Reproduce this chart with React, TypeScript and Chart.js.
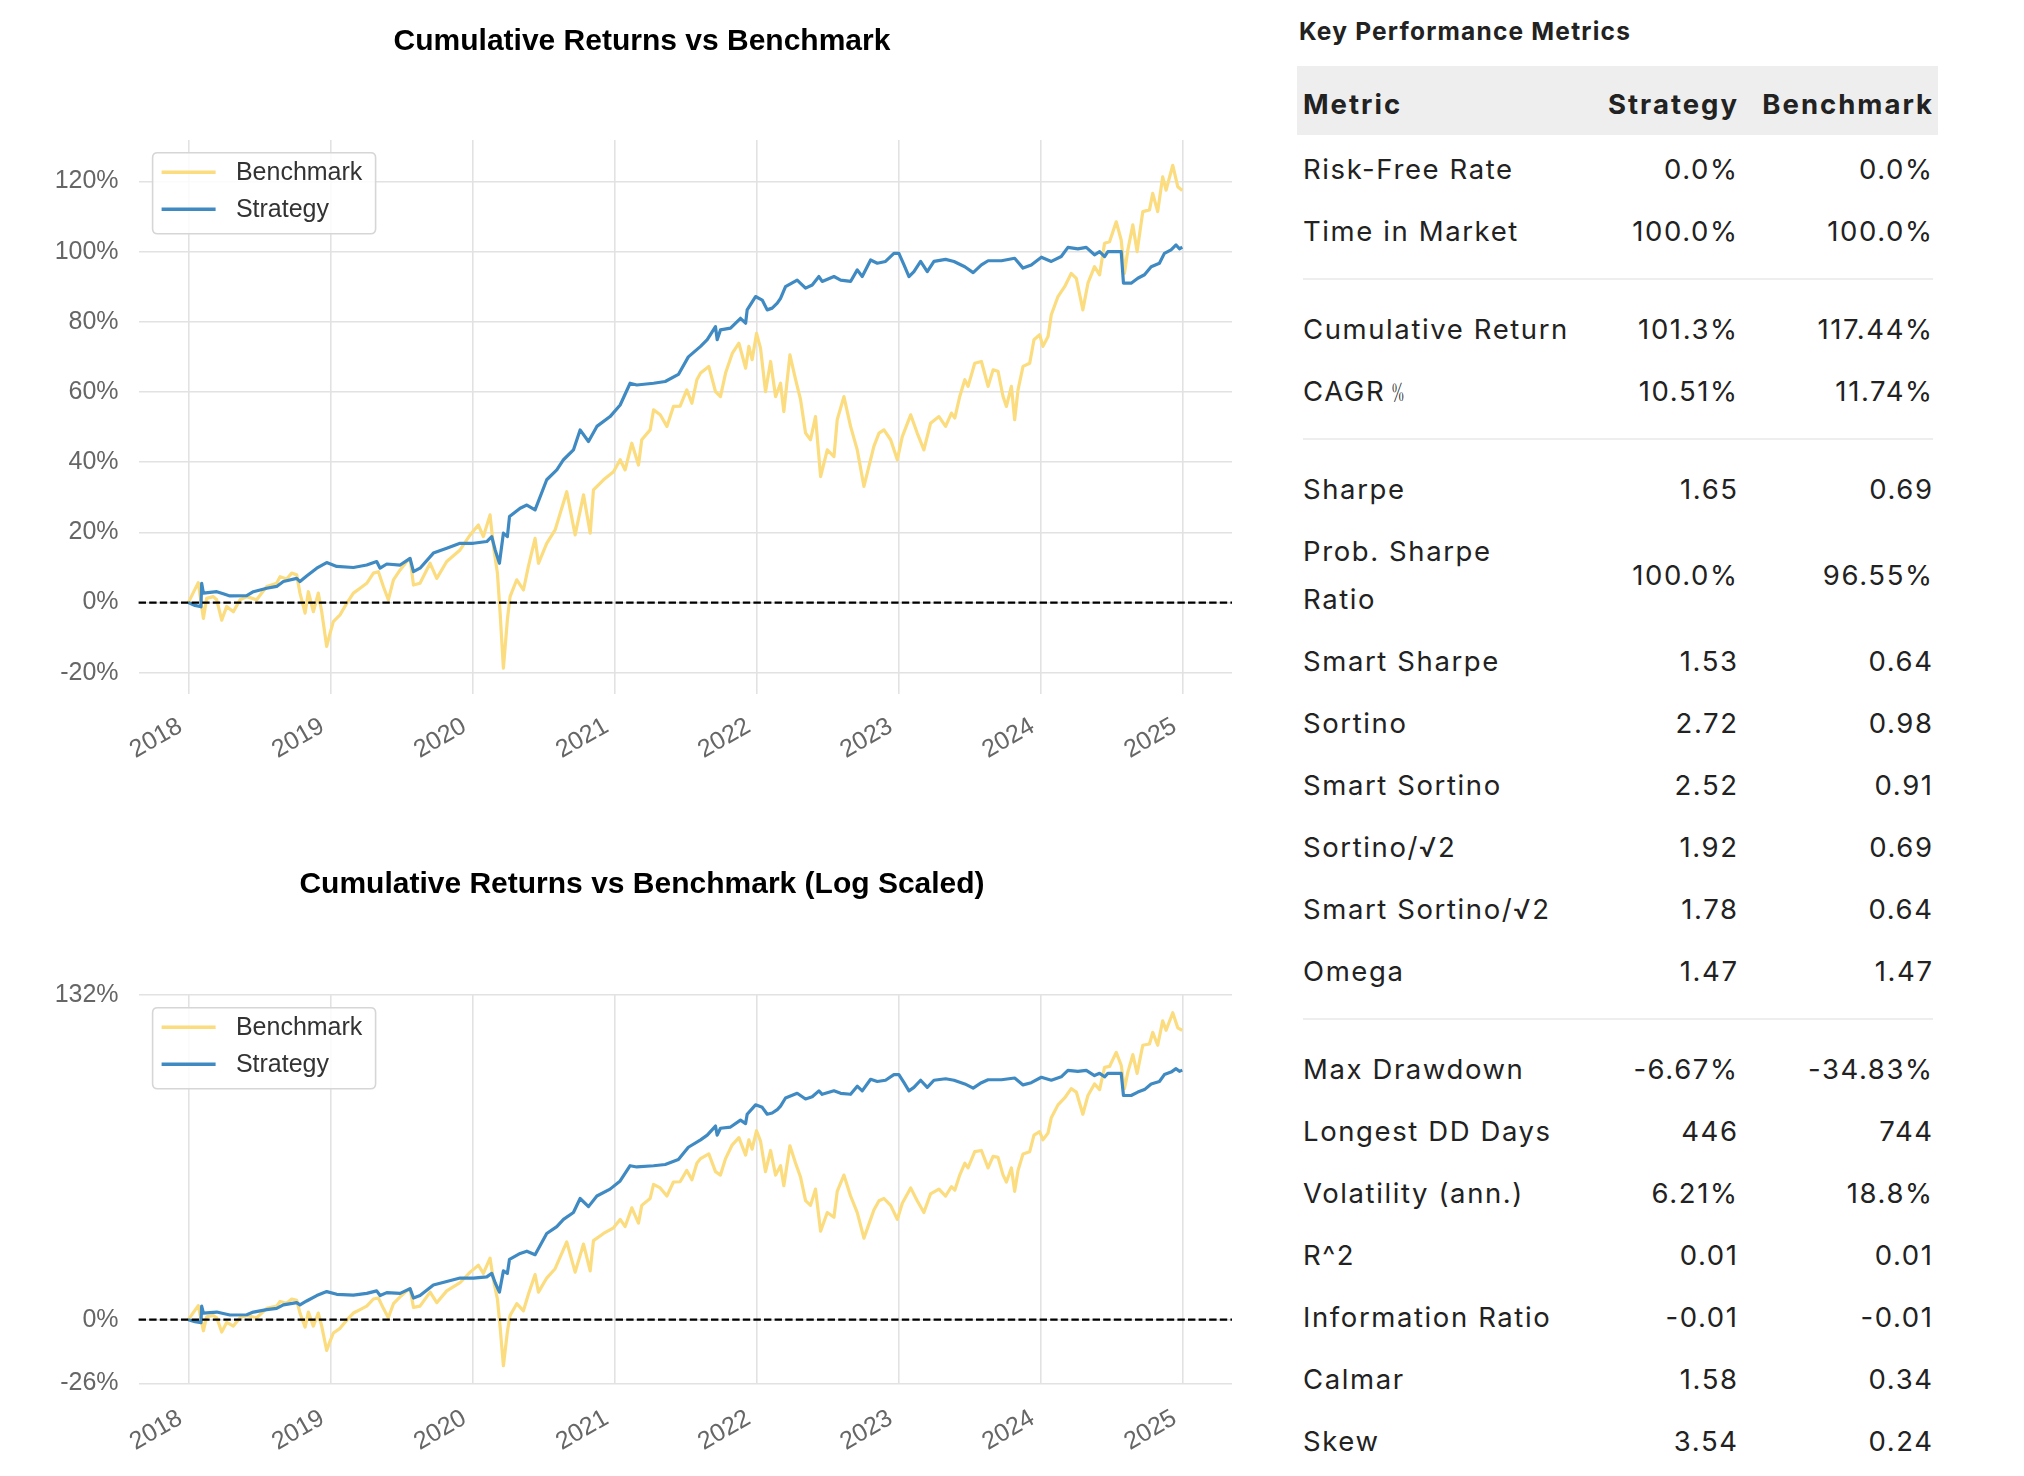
import React, { useEffect, useRef } from "react";
import { Chart, registerables } from "chart.js";

Chart.register(...registerables);

// ---------- data (dates as decimal years, values in % cumulative return) ----------
const benchmarkDates = [
  2018.0, 2018.07, 2018.106, 2018.129, 2018.176, 2018.2, 2018.235, 2018.27, 2018.317, 2018.364,
  2018.411, 2018.481, 2018.552, 2018.622, 2018.646, 2018.692, 2018.728, 2018.763, 2018.786, 2018.822,
  2018.845, 2018.88, 2018.915, 2018.939, 2018.974, 2018.998, 2019.021, 2019.068, 2019.115, 2019.162,
  2019.209, 2019.256, 2019.303, 2019.338, 2019.373, 2019.408, 2019.444, 2019.491, 2019.538, 2019.561,
  2019.585, 2019.631, 2019.702, 2019.749, 2019.819, 2019.913, 2019.984, 2020.042, 2020.077, 2020.124,
  2020.148, 2020.176, 2020.195, 2020.218, 2020.246, 2020.265, 2020.312, 2020.359, 2020.394, 2020.441,
  2020.465, 2020.523, 2020.582, 2020.664, 2020.723, 2020.782, 2020.829, 2020.852, 2020.923, 2020.993,
  2021.04, 2021.075, 2021.122, 2021.169, 2021.192, 2021.251, 2021.275, 2021.322, 2021.369, 2021.415,
  2021.462, 2021.509, 2021.545, 2021.58, 2021.606, 2021.664, 2021.711, 2021.746, 2021.782, 2021.829,
  2021.876, 2021.923, 2021.946, 2021.969, 2022.0, 2022.028, 2022.063, 2022.099, 2022.134, 2022.169,
  2022.192, 2022.235, 2022.275, 2022.31, 2022.345, 2022.38, 2022.415, 2022.451, 2022.498, 2022.545,
  2022.568, 2022.615, 2022.662, 2022.709, 2022.756, 2022.791, 2022.826, 2022.862, 2022.897, 2022.944,
  2022.991, 2023.026, 2023.085, 2023.131, 2023.178, 2023.225, 2023.284, 2023.331, 2023.372, 2023.396,
  2023.431, 2023.466, 2023.489, 2023.536, 2023.583, 2023.63, 2023.665, 2023.7, 2023.735, 2023.759,
  2023.794, 2023.817, 2023.841, 2023.876, 2023.923, 2023.953, 2023.993, 2024.016, 2024.052, 2024.075,
  2024.122, 2024.169, 2024.215, 2024.251, 2024.297, 2024.333, 2024.379, 2024.415, 2024.45, 2024.485,
  2024.532, 2024.567, 2024.59, 2024.614, 2024.649, 2024.679, 2024.719, 2024.766, 2024.789, 2024.824,
  2024.859, 2024.883, 2024.93, 2024.965, 2024.997,
];
const benchmarkValues = [
  0, 5.7, -4.5, 1.2, 1.7, 0.8, -5.0, -1.1, -2.6, 0.8,
  1.7, 0.8, 4.6, 5.5, 7.4, 6.7, 8.4, 7.9, 2.7, -3.0,
  3.1, -2.6, 2.7, -2.6, -12.5, -8.7, -5.4, -3.5, -0.2, 2.7,
  4.1, 5.5, 8.4, 8.8, 4.6, 0.8, 6.5, 9.3, 11.7, 12.6,
  5.0, 5.5, 11.2, 6.9, 11.7, 15.0, 19.3, 22.1, 18.8, 25.0,
  16.0, 8.4, -3.0, -18.7, -4.9, 1.7, 6.5, 3.6, 10.3, 18.3,
  11.2, 16.9, 20.7, 31.6, 19.3, 30.7, 19.8, 32.1, 35.0, 37.3,
  40.7, 37.8, 45.4, 39.2, 46.4, 49.2, 54.9, 53.5, 50.2, 55.9,
  56.0, 60.6, 56.8, 63.5, 65.4, 67.3, 60.1, 58.7, 65.4, 71.0,
  73.9, 66.8, 73.0, 69.2, 76.7, 72.5, 60.1, 68.7, 58.7, 62.5,
  54.4, 70.6, 63.5, 57.8, 48.3, 46.4, 53.0, 35.9, 43.5, 41.6,
  52.1, 58.7, 50.2, 43.5, 33.1, 38.8, 44.5, 48.3, 49.2, 46.4,
  40.7, 47.3, 53.5, 48.3, 43.5, 51.1, 53.0, 50.2, 54.0, 52.6,
  58.8, 63.5, 61.6, 68.2, 68.7, 61.6, 66.3, 65.9, 58.8, 55.9,
  61.6, 52.1, 60.7, 67.3, 68.2, 74.9, 76.3, 73.0, 75.8, 82.0,
  87.2, 90.0, 93.8, 92.4, 83.4, 91.0, 95.7, 93.4, 102.4, 102.8,
  108.5, 103.3, 93.8, 100.5, 107.6, 100.0, 111.4, 111.9, 116.6, 111.4,
  121.3, 117.5, 124.6, 118.5, 117.4,
];
const strategyDates = [
  2018.0, 2018.047, 2018.089, 2018.094, 2018.106, 2018.2, 2018.246, 2018.293, 2018.411, 2018.458,
  2018.552, 2018.622, 2018.669, 2018.763, 2018.786, 2018.833, 2018.904, 2018.974, 2019.045, 2019.162,
  2019.256, 2019.326, 2019.35, 2019.397, 2019.491, 2019.561, 2019.585, 2019.631, 2019.725, 2019.819,
  2019.913, 2020.007, 2020.101, 2020.136, 2020.16, 2020.19, 2020.218, 2020.246, 2020.261, 2020.336,
  2020.383, 2020.441, 2020.523, 2020.594, 2020.641, 2020.711, 2020.758, 2020.817, 2020.876, 2020.969,
  2021.04, 2021.11, 2021.157, 2021.275, 2021.357, 2021.45, 2021.52, 2021.606, 2021.653, 2021.711,
  2021.723, 2021.746, 2021.817, 2021.887, 2021.923, 2021.934, 2021.993, 2022.04, 2022.075, 2022.11,
  2022.146, 2022.169, 2022.204, 2022.286, 2022.345, 2022.392, 2022.439, 2022.462, 2022.545, 2022.592,
  2022.662, 2022.709, 2022.744, 2022.803, 2022.85, 2022.908, 2022.967, 2023.002, 2023.038, 2023.073,
  2023.108, 2023.155, 2023.202, 2023.249, 2023.331, 2023.39, 2023.466, 2023.525, 2023.583, 2023.63,
  2023.724, 2023.817, 2023.876, 2023.934, 2024.005, 2024.075, 2024.145, 2024.192, 2024.262, 2024.321,
  2024.379, 2024.415, 2024.45, 2024.473, 2024.567, 2024.583, 2024.637, 2024.684, 2024.731, 2024.778,
  2024.836, 2024.871, 2024.918, 2024.953, 2024.977, 2024.997,
];
const strategyValues = [
  0, -0.8, -1.2, 5.5, 2.7, 3.1, 2.5, 1.9, 2.0, 3.1,
  4.1, 4.6, 6.0, 6.9, 6.0, 7.6, 9.8, 11.4, 10.3, 10.0,
  10.7, 11.7, 9.8, 11.0, 10.7, 12.6, 8.8, 9.8, 14.1, 15.5,
  16.9, 16.9, 17.4, 18.8, 15.0, 11.2, 19.8, 18.8, 24.5, 26.9,
  27.8, 26.4, 35.0, 37.8, 40.7, 43.5, 49.2, 45.9, 50.2, 53.0,
  56.3, 62.5, 62.0, 62.5, 63.0, 65.0, 70.0, 73.0, 74.9, 78.6,
  74.9, 77.7, 78.2, 81.0, 79.6, 83.4, 87.2, 86.2, 83.4, 83.9,
  85.3, 86.7, 90.0, 91.9, 89.6, 90.5, 92.9, 91.5, 92.9, 91.9,
  91.5, 94.8, 92.9, 97.6, 96.7, 97.2, 99.5, 99.5, 96.2, 92.9,
  94.3, 97.2, 94.3, 97.2, 97.8, 97.2, 95.7, 94.0, 96.2, 97.4,
  97.4, 98.1, 95.3, 96.2, 98.4, 97.2, 98.6, 101.2, 100.8, 101.2,
  99.1, 100.0, 98.6, 100.0, 100.0, 91.0, 91.0, 92.4, 93.4, 95.7,
  96.7, 99.5, 100.5, 101.9, 100.8, 101.3,
];

const yearTicks = [2018, 2019, 2020, 2021, 2022, 2023, 2024, 2025];
const linearTicks = [-20, 0, 20, 40, 60, 80, 100, 120];
const Y_MIN = -25.9;
const Y_MAX = 131.8;
const logTicks = [Y_MIN, 0, Y_MAX];
const X_MIN = 2017.65;
const X_MAX = 2025.347;

const seriesLabels = ["Benchmark", "Strategy"];

const metricNames = [
  "Risk-Free Rate", "Time in Market", null,
  "Cumulative Return", "CAGR﹪", null,
  "Sharpe", "Prob. Sharpe Ratio", "Smart Sharpe", "Sortino", "Smart Sortino", "Sortino/√2", "Smart Sortino/√2", "Omega", null,
  "Max Drawdown", "Longest DD Days", "Volatility (ann.)", "R^2", "Information Ratio", "Calmar", "Skew",
];
const strategyMetrics = [
  "0.0%", "100.0%", null,
  "101.3%", "10.51%", null,
  "1.65", "100.0%", "1.53", "2.72", "2.52", "1.92", "1.78", "1.47", null,
  "-6.67%", "446", "6.21%", "0.01", "-0.01", "1.58", "3.54",
];
const benchmarkMetrics = [
  "0.0%", "100.0%", null,
  "117.44%", "11.74%", null,
  "0.69", "96.55%", "0.64", "0.98", "0.91", "0.69", "0.64", "1.47", null,
  "-34.83%", "744", "18.8%", "0.01", "-0.01", "0.34", "0.24",
];

// ---------- styles ----------
const BENCH_COLOR = "#fbdc7f";
const STRAT_COLOR = "#3f8ac2";
const GRID_COLOR = "#e2e2e2";
const TICK_COLOR = "#666666";
const CHART_FONT = "'Liberation Sans', Arial, Helvetica, sans-serif";
const TABLE_FONT = "Inter, 'Liberation Sans', Arial, sans-serif";
const BODY_LS = 1.6;
const HEAD_LS = 2.0;

const zeroLinePlugin = {
  id: "zeroLine",
  afterDatasetsDraw(chart: any) {
    const { ctx, chartArea } = chart;
    const py = chart.scales.y.getPixelForValue(0);
    ctx.save();
    ctx.strokeStyle = "#000";
    ctx.lineWidth = 2.2;
    ctx.setLineDash([7.4, 3.2]);
    ctx.beginPath();
    ctx.moveTo(chartArea.left, py);
    ctx.lineTo(chartArea.right, py);
    ctx.stroke();
    ctx.restore();
  },
};

const boxLegendPlugin = {
  id: "boxLegend",
  afterDraw(chart: any) {
    const { ctx, chartArea } = chart;
    const x0 = chartArea.left + 14;
    const y0 = chartArea.top + 12.7;
    const w = 223;
    const h = 81;
    const r = 5;
    ctx.save();
    ctx.beginPath();
    ctx.moveTo(x0 + r, y0);
    ctx.lineTo(x0 + w - r, y0);
    ctx.quadraticCurveTo(x0 + w, y0, x0 + w, y0 + r);
    ctx.lineTo(x0 + w, y0 + h - r);
    ctx.quadraticCurveTo(x0 + w, y0 + h, x0 + w - r, y0 + h);
    ctx.lineTo(x0 + r, y0 + h);
    ctx.quadraticCurveTo(x0, y0 + h, x0, y0 + h - r);
    ctx.lineTo(x0, y0 + r);
    ctx.quadraticCurveTo(x0, y0, x0 + r, y0);
    ctx.closePath();
    ctx.fillStyle = "rgba(255,255,255,0.85)";
    ctx.fill();
    ctx.strokeStyle = "#d6d6d6";
    ctx.lineWidth = 1.6;
    ctx.stroke();
    [0, 1].forEach((di, i) => {
      const ds = chart.data.datasets[di];
      const ly = y0 + 19.6 + i * 37;
      ctx.beginPath();
      ctx.strokeStyle = ds.borderColor;
      ctx.lineWidth = 3.6;
      ctx.moveTo(x0 + 9, ly);
      ctx.lineTo(x0 + 63, ly);
      ctx.stroke();
      ctx.fillStyle = "#333";
      ctx.font = `25px ${CHART_FONT}`;
      ctx.textBaseline = "middle";
      ctx.textAlign = "left";
      ctx.fillText(ds.label, x0 + 83.3, ly + 1);
    });
    ctx.restore();
  },
};

const toPoints = (dates: number[], values: number[]) => dates.map((d, i) => ({ x: d, y: values[i] }));

type ChartProps = {
  title: string;
  top: number;
  height: number;
  titlePadTop: number;
  titlePadBottom: number;
  axisHeight: number;
  tickPad: number;
  yTicks: number[];
};

function CumulativeChart(props: ChartProps) {
  const ref = useRef<HTMLCanvasElement | null>(null);
  useEffect(() => {
    if (!ref.current) return;
    const chart = new Chart(ref.current, {
      type: "line",
      data: {
        datasets: [
          {
            label: seriesLabels[0],
            data: toPoints(benchmarkDates, benchmarkValues),
            borderColor: BENCH_COLOR,
            backgroundColor: BENCH_COLOR,
            borderWidth: 3.2,
            pointRadius: 0,
            tension: 0,
            borderJoinStyle: "round",
            order: 2,
          },
          {
            label: seriesLabels[1],
            data: toPoints(strategyDates, strategyValues),
            borderColor: STRAT_COLOR,
            backgroundColor: STRAT_COLOR,
            borderWidth: 3.2,
            pointRadius: 0,
            tension: 0,
            borderJoinStyle: "round",
            order: 1,
          },
        ],
      },
      options: {
        animation: false,
        responsive: false,
        devicePixelRatio: 1,
        layout: { padding: { left: 52, right: 52, top: 0, bottom: 0 } },
        plugins: {
          legend: { display: false },
          tooltip: { enabled: false },
          title: {
            display: true,
            text: props.title,
            color: "#000",
            font: { family: CHART_FONT, size: 30, weight: "bold", lineHeight: 1.2 },
            padding: { top: props.titlePadTop, bottom: props.titlePadBottom },
          },
        },
        scales: {
          x: {
            type: "linear",
            min: X_MIN,
            max: X_MAX,
            afterBuildTicks: (s: any) => {
              s.ticks = yearTicks.map((v) => ({ value: v }));
            },
            afterFit: (s: any) => {
              s.height = props.axisHeight;
            },
            grid: { color: GRID_COLOR, lineWidth: 1.6, drawTicks: false },
            border: { display: false },
            ticks: {
              autoSkip: false,
              minRotation: 30,
              maxRotation: 30,
              padding: props.tickPad,
              labelOffset: -8,
              color: TICK_COLOR,
              font: { family: CHART_FONT, size: 25 },
              callback: (v: any) => String(v),
            },
          },
          y: {
            type: "linear",
            min: Y_MIN,
            max: Y_MAX,
            afterBuildTicks: (s: any) => {
              s.ticks = props.yTicks.map((v) => ({ value: v }));
            },
            afterFit: (s: any) => {
              s.width = 86.6;
            },
            grid: { color: GRID_COLOR, lineWidth: 1.6, drawTicks: false },
            border: { display: false },
            ticks: {
              padding: 20,
              color: TICK_COLOR,
              font: { family: CHART_FONT, size: 25 },
              callback: (v: any) => `${Math.round(Number(v))}%`,
            },
          },
        },
      } as any,
      plugins: [zeroLinePlugin, boxLegendPlugin],
    });
    return () => chart.destroy();
  }, []);
  return (
    <canvas
      ref={ref}
      width={1284}
      height={props.height}
      style={{ position: "absolute", left: 0, top: props.top, width: 1284, height: props.height }}
    />
  );
}

function MetricsTable() {
  const rows: React.ReactNode[] = [];
  let y = 138;
  metricNames.forEach((name, i) => {
    if (name === null) {
      rows.push(
        <div key={`sep${i}`} style={{ position: "absolute", left: 6, top: y + 16, width: 630, height: 2, background: "#eeeeee" }} />
      );
      y += 36;
      return;
    }
    const twoLine = name === "Prob. Sharpe Ratio";
    const h = twoLine ? 110 : 62;
    const cellStyle: React.CSSProperties = {
      position: "absolute",
      top: y,
      height: h,
      display: "flex",
      alignItems: "center",
      fontSize: 27.5,
      lineHeight: "48px",
      letterSpacing: BODY_LS,
      color: "#222",
      whiteSpace: "nowrap",
    };
    rows.push(
      <div key={`n${i}`} style={{ ...cellStyle, left: 6 }}>
        {twoLine ? (
          <span>
            Prob. Sharpe
            <br />
            Ratio
          </span>
        ) : (
          name
        )}
      </div>
    );
    rows.push(
      <div key={`s${i}`} style={{ ...cellStyle, right: 201 - BODY_LS, justifyContent: "flex-end" }}>
        {strategyMetrics[i]}
      </div>
    );
    rows.push(
      <div key={`b${i}`} style={{ ...cellStyle, right: 6 - BODY_LS, justifyContent: "flex-end" }}>
        {benchmarkMetrics[i]}
      </div>
    );
    y += h;
  });

  const headStyle: React.CSSProperties = {
    position: "absolute",
    top: 70,
    height: 69,
    lineHeight: "69px",
    fontSize: 27.5,
    fontWeight: 700,
    letterSpacing: HEAD_LS,
    color: "#222",
    whiteSpace: "nowrap",
  };

  return (
    <div style={{ position: "absolute", left: 1297, top: 0, width: 641, height: 1476, fontFamily: TABLE_FONT }}>
      <div style={{ position: "absolute", left: 2, top: 11, height: 40, lineHeight: "40px", fontSize: 24.5, fontWeight: 700, letterSpacing: 1.2, color: "#222", whiteSpace: "nowrap" }}>
        Key Performance Metrics
      </div>
      <div style={{ position: "absolute", left: 0, top: 66, width: 641, height: 69, background: "#eeeeee" }} />
      <div style={{ ...headStyle, left: 6 }}>Metric</div>
      <div style={{ ...headStyle, right: 201 - HEAD_LS }}>Strategy</div>
      <div style={{ ...headStyle, right: 6 - HEAD_LS }}>Benchmark</div>
      {rows}
    </div>
  );
}

export default function App() {
  return (
    <div style={{ position: "absolute", left: 0, top: 0, width: 2024, height: 1476, background: "#fff", overflow: "hidden" }}>
      <CumulativeChart
        title="Cumulative Returns vs Benchmark"
        top={0}
        height={790}
        titlePadTop={24}
        titlePadBottom={80}
        axisHeight={96.5}
        tickPad={18}
        yTicks={linearTicks}
      />
      <CumulativeChart
        title="Cumulative Returns vs Benchmark (Log Scaled)"
        top={800}
        height={676}
        titlePadTop={67}
        titlePadBottom={92}
        axisHeight={92.5}
        tickPad={20}
        yTicks={logTicks}
      />
      <MetricsTable />
    </div>
  );
}
